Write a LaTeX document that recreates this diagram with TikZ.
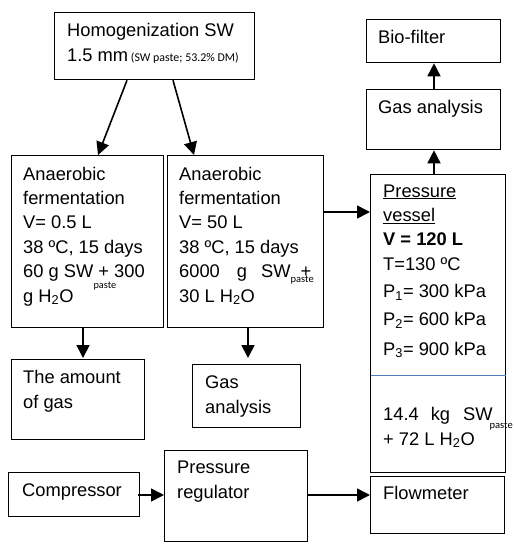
\documentclass[tikz,border=0pt]{standalone}
\usepackage{fontspec}
\setmainfont{Liberation Sans}
\newfontfamily\pastefamily{Carlito}
\usetikzlibrary{arrows.meta,calc}
\newcommand\mainsz{\fontsize{18.3}{24.4}\selectfont}
\newcommand\pastesz[1]{{\pastefamily\fontsize{#1}{#1}\selectfont paste}}
\definecolor{divblue}{RGB}{79,129,189}
\tikzset{
  box/.style={draw=black, line width=1.3pt, inner sep=0pt, anchor=north west},
  txt/.style={font=\mainsz, align=left, inner sep=0pt, anchor=base west, text=black},
  arr/.style={draw=black, line width=1.6pt, -{Triangle[length=13pt,width=13pt]}},
}
\begin{document}
\begin{tikzpicture}[x=1pt,y=-1pt]
\useasboundingbox[fill=white] (0,0) rectangle (514,550);
% boxes
\node[box, minimum width=200pt, minimum height=67pt] (homog) at (54,12) {};
\node[box, minimum width=134pt, minimum height=43pt] (bio) at (366,19) {};
\node[box, minimum width=134pt, minimum height=60pt] (ga1) at (366,89) {};
\node[box, minimum width=152pt, minimum height=172pt] (an1) at (11,155) {};
\node[box, minimum width=156pt, minimum height=172pt] (an2) at (167,155) {};
\node[box, minimum width=135pt, minimum height=298pt] (pv) at (370,174) {};
\node[box, minimum width=133pt, minimum height=80pt] (amount) at (11,359) {};
\node[box, minimum width=108pt, minimum height=63pt] (ga2) at (192,364) {};
\node[box, minimum width=131pt, minimum height=44pt] (comp) at (8,472) {};
\node[box, minimum width=143pt, minimum height=91pt] (reg) at (164,450) {};
\node[box, minimum width=134pt, minimum height=57pt] (flow) at (370,476) {};
\draw[divblue, line width=1pt] ($(pv.north west)+(0.7,201)$) -- ($(pv.north east)+(-0.7,201)$);
% texts (multi-line nodes: base anchor = last line's baseline)
\node[txt] (homog-t) at (67,61) {Homogenization SW\\1.5 mm{\pastefamily\fontsize{11.9}{14}\selectfont{} (SW paste; 53.2\% DM)}};
\node[txt] (bio-t) at (378,43) {Bio-filter};
\node[txt] (ga1-t) at (378,113) {Gas analysis};
\node[txt] (an1-t) at (23,302) {Anaerobic\\fermentation\\V= 0.5 L\\38 ºC, 15 days\\60 g SW + 300\\g H\textsubscript{2}O\hspace{20pt}\smash{\raisebox{14pt}{\pastesz{10.3}}}};
\node[txt] (an2-t) at (179,302) {Anaerobic\\fermentation\\V= 50 L\\38 ºC, 15 days\\6000\hspace{17pt}g\hspace{14pt}SW\rlap{\raisebox{-5pt}{\pastesz{10.5}}}\hspace{10pt}+\\30 L H\textsubscript{2}O};
\node[txt] (pv-t) at (383,355) {\underline{Pressure}\\\underline{vessel}\\\textbf{V = 120 L}\\T=130 ºC\\[2.5pt]P\textsubscript{1}= 300 kPa\\[3.5pt]P\textsubscript{2}= 600 kPa\\[5.5pt]P\textsubscript{3}= 900 kPa};
\node[txt] (pv-t2) at (383,445) {14.4\hspace{12pt}kg\hspace{13pt}SW\rlap{\hspace{-3pt}\raisebox{-8pt}{\pastesz{10.5}}}\\[0.6pt]+ 72 L H\textsubscript{2}O};
\node[txt] (amount-t) at (23,408) {The amount\\of gas};
\node[txt] (ga2-t) at (205,413) {Gas\\analysis};
\node[txt] (comp-t) at (22,496) {Compressor};
\node[txt] (reg-t) at (177,498) {Pressure\\regulator};
\node[txt] (flow-t) at (383,499) {Flowmeter};
% connectors
\draw[arr] ($(homog.south west)+(73,0)$) -- ($(an1.north west)+(87,0)$);
\draw[arr] ($(homog.south west)+(119,0)$) -- ($(an2.north west)+(27,0)$);
\draw[arr] ($(an1.south west)+(72,0)$) -- ($(amount.north west)+(72,-1)$);
\draw[arr, shorten >=6pt] ($(an2.south west)+(81,0)$) -- ($(ga2.north west)+(56,0)$);
\draw[arr] ($(an2.north east)+(0,57)$) -- ($(pv.north west)+(0,38)$);
\draw[arr] ($(pv.north west)+(64,0)$) -- ($(ga1.south west)+(68,0)$);
\draw[arr] ($(ga1.north west)+(68,0)$) -- ($(bio.south west)+(68,0)$);
\draw[arr] ($(comp.north east)+(-2,23)$) -- ($(reg.north west)+(0,45)$);
\draw[arr] ($(reg.north west)+(143,45)$) -- ($(flow.north west)+(0,19)$);
\end{tikzpicture}
\end{document}
